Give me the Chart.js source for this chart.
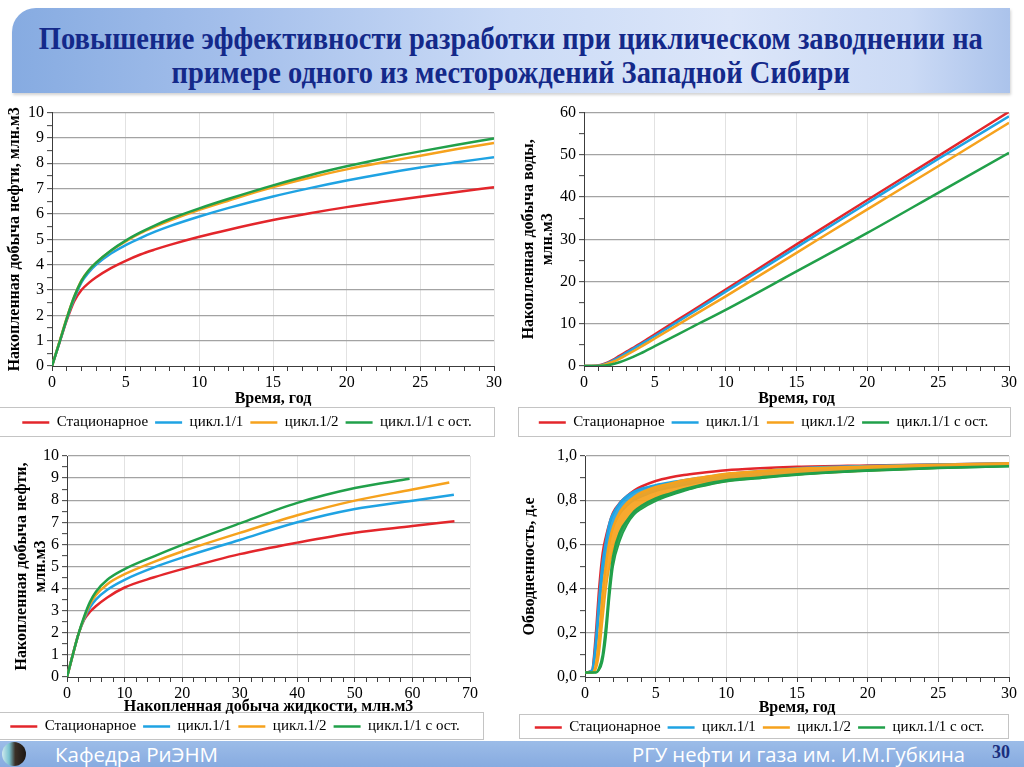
<!DOCTYPE html>
<html lang="ru">
<head>
<meta charset="utf-8">
<script src="https://cdn.jsdelivr.net/npm/chart.js@4.4.1/dist/chart.umd.min.js"></script>
<style>
html,body{margin:0;padding:0;background:#fff;}
body{width:1024px;height:767px;position:relative;overflow:hidden;font-family:"Liberation Serif",serif;}
#title{position:absolute;left:12px;top:8px;width:998px;height:85px;border-top-left-radius:24px;overflow:hidden;
  background:linear-gradient(90deg,#86abe1 0%,#a4bfeb 22%,#cbdbf6 50%,#dce6f9 72%,#cbdaf5 90%,#abc3eb 100%);
  box-shadow:1px 2px 3px rgba(0,0,0,0.18);}
.tl{position:absolute;left:-300px;width:1598px;text-align:center;white-space:nowrap;font:bold 32px "Liberation Serif",serif;color:#14298a;line-height:34px;height:34px;}
.tl span{display:inline-block;transform-origin:50% 50%;}
.lg{position:absolute;border:1px solid #c4c4c4;box-sizing:border-box;background:#fff;}
canvas{position:absolute;}
#footer{position:absolute;left:0;top:741px;width:1024px;height:26px;background:linear-gradient(180deg,#9cbce8,#87abe0);}
#logo{position:absolute;left:2px;top:1px;width:24px;height:24px;border-radius:50%;
  background:linear-gradient(90deg,#cfe9ee 0%,#79c2cf 30%,#3b3026 55%,#1c1714 100%);}
.ft{position:absolute;top:0;height:26px;line-height:26px;white-space:nowrap;font:20px "Open Sans","Noto Sans",sans-serif;color:#fff;}
.ft span{display:inline-block;transform-origin:0 50%;}
#pg{position:absolute;left:992px;top:1px;height:26px;line-height:26px;font:bold 18px "Liberation Serif",serif;color:#1b2f7e;}
</style>
</head>
<body>
<div id="title">
  <div class="tl" style="top:13px"><span id="t1">Повышение эффективности разработки при циклическом заводнении на</span></div>
  <div class="tl" style="top:47px"><span id="t2">примере одного из месторождений Западной Сибири</span></div>
</div>

<div class="lg" style="left:-1px;top:407px;width:496px;height:30px"></div>
<div class="lg" style="left:518px;top:407px;width:493px;height:30px"></div>
<div class="lg" style="left:-1px;top:712px;width:485px;height:28px"></div>
<div class="lg" style="left:519px;top:714px;width:490px;height:25px"></div>

<canvas id="c1" width="510" height="340" style="left:0;top:100px"></canvas>
<canvas id="c2" width="514" height="340" style="left:510px;top:100px"></canvas>
<canvas id="c3" width="510" height="304" style="left:0;top:440px"></canvas>
<canvas id="c4" width="514" height="305" style="left:510px;top:440px"></canvas>

<div id="footer">
  <div id="logo"></div>
  <div class="ft" style="left:55px"><span id="f1">Кафедра РиЭНМ</span></div>
  <div class="ft" style="left:632px"><span id="f2">РГУ нефти и газа им. И.М.Губкина</span></div>
  <div id="pg">30</div>
</div>

<script>
// ---------------- DATA ----------------
const seriesNames = ['Стационарное', 'цикл.1/1', 'цикл.1/2', 'цикл.1/1 с ост.'];

// Chart 1: cumulative oil vs time (years, mln m3)
const oilTime   = [0, 0.5, 1, 1.5, 2, 2.5, 3, 4, 5, 6, 7, 8, 10, 12, 15, 17.5, 20, 22.5, 25, 27.5, 30];
const oilRed    = [0, 0.9, 1.8, 2.55, 3.0, 3.28, 3.5, 3.86, 4.15, 4.4, 4.6, 4.78, 5.1, 5.38, 5.76, 6.03, 6.27, 6.48, 6.68, 6.87, 7.05];
const oilBlue   = [0, 0.92, 1.85, 2.65, 3.3, 3.7, 4.0, 4.44, 4.77, 5.05, 5.3, 5.52, 5.9, 6.24, 6.69, 7.02, 7.32, 7.59, 7.83, 8.04, 8.24];
const oilOrange = [0, 0.95, 1.9, 2.72, 3.38, 3.78, 4.08, 4.55, 4.92, 5.24, 5.5, 5.74, 6.16, 6.53, 7.06, 7.43, 7.76, 8.04, 8.3, 8.56, 8.8];
const oilGreen  = [0, 0.92, 1.87, 2.72, 3.36, 3.78, 4.08, 4.56, 4.95, 5.27, 5.55, 5.8, 6.22, 6.6, 7.13, 7.53, 7.88, 8.19, 8.47, 8.73, 8.98];

// Chart 2: cumulative water vs time
const watTime   = [0, 0.5, 1, 1.5, 2, 2.5, 3, 4, 5, 7.5, 10, 15, 20, 25, 30];
const watRed    = [0, 0, 0.1, 0.6, 1.4, 2.4, 3.4, 5.4, 7.5, 12.8, 18.1, 28.8, 39.3, 49.7, 60.2];
const watBlue   = [0, 0, 0.05, 0.5, 1.2, 2.1, 3.1, 5.1, 7.1, 12.3, 17.6, 28.1, 38.6, 49.0, 59.1];
const watOrange = [0, 0, 0.03, 0.35, 0.95, 1.7, 2.6, 4.5, 6.5, 11.5, 16.5, 26.8, 37.1, 47.3, 57.6];
const watGreen  = [0, 0, 0, 0.1, 0.4, 0.9, 1.5, 3.0, 4.7, 9.0, 13.3, 22.4, 31.5, 41.0, 50.5];

// Chart 3: cumulative oil vs cumulative liquid
const liqRed       = [0, 1, 2, 3, 4, 5, 7, 10, 15, 20, 30, 40, 50, 60, 67.3];
const oilLiqRed    = [0, 1.0, 1.95, 2.6, 2.95, 3.2, 3.6, 4.05, 4.5, 4.88, 5.56, 6.08, 6.53, 6.83, 7.05];
const liqBlue      = [0, 1, 2, 3, 4, 5, 7, 10, 15, 20, 30, 40, 50, 60, 67.2];
const oilLiqBlue   = [0, 1.0, 1.95, 2.65, 3.15, 3.5, 3.95, 4.4, 4.95, 5.4, 6.2, 7.0, 7.6, 7.98, 8.25];
const liqOrange    = [0, 1, 2, 3, 4, 5, 7, 10, 15, 20, 30, 40, 50, 60, 66.4];
const oilLiqOrange = [0, 1.0, 1.95, 2.7, 3.3, 3.7, 4.2, 4.65, 5.2, 5.68, 6.52, 7.32, 7.98, 8.48, 8.8];
const liqGreen     = [0, 1, 2, 3, 4, 5, 7, 10, 15, 20, 30, 40, 50, 59.5];
const oilLiqGreen  = [0, 1.0, 1.95, 2.75, 3.4, 3.85, 4.4, 4.88, 5.45, 5.98, 6.95, 7.88, 8.55, 8.97];

// Chart 4: water cut vs time (cyclic regimes oscillate between a low and a high envelope)
const wcTime      = [0, 0.5, 0.75, 1, 1.25, 1.5, 1.75, 2, 2.5, 3, 3.5, 4, 5, 6, 7, 8, 10, 12, 15, 20, 25, 30];
const wcRed       = [0.02, 0.03, 0.18, 0.40, 0.56, 0.64, 0.70, 0.745, 0.79, 0.82, 0.845, 0.862, 0.887, 0.903, 0.914, 0.922, 0.935, 0.943, 0.951, 0.957, 0.962, 0.966];
const wcBlueHigh  = [0.02, 0.03, 0.15, 0.35, 0.52, 0.62, 0.70, 0.74, 0.79, 0.82, 0.84, 0.852, 0.868, 0.88, 0.89, 0.90, 0.918, 0.93, 0.944, 0.955, 0.962, 0.967];
const wcBlueLow   = [0.02, 0.03, 0.10, 0.28, 0.45, 0.55, 0.64, 0.68, 0.74, 0.775, 0.80, 0.815, 0.84, 0.855, 0.868, 0.879, 0.897, 0.908, 0.922, 0.938, 0.948, 0.958];
const wcOrangeHigh= [0.02, 0.02, 0.05, 0.18, 0.38, 0.52, 0.62, 0.68, 0.75, 0.79, 0.815, 0.835, 0.86, 0.875, 0.89, 0.90, 0.92, 0.93, 0.942, 0.952, 0.96, 0.967];
const wcOrangeLow = [0.02, 0.02, 0.03, 0.10, 0.25, 0.40, 0.50, 0.58, 0.66, 0.71, 0.745, 0.77, 0.80, 0.825, 0.845, 0.86, 0.885, 0.898, 0.915, 0.932, 0.945, 0.955];
const wcGreenHigh = [0.02, 0.02, 0.02, 0.04, 0.10, 0.24, 0.42, 0.55, 0.66, 0.71, 0.75, 0.775, 0.808, 0.83, 0.85, 0.866, 0.89, 0.901, 0.917, 0.935, 0.947, 0.954];
const wcGreenLow  = [0.02, 0.02, 0.02, 0.03, 0.07, 0.18, 0.36, 0.50, 0.62, 0.69, 0.735, 0.76, 0.795, 0.82, 0.84, 0.858, 0.884, 0.896, 0.913, 0.931, 0.944, 0.952];

// ---------------- STYLE ----------------
const FONT = '"Liberation Serif","Times New Roman",serif';
const COLORS = ['#e3262b', '#1fa3e3', '#f6a21d', '#21a04a'];
const BAND_FILL = ['rgba(227,38,43,0.9)', 'rgba(31,163,227,0.9)', 'rgba(246,162,29,0.92)', 'rgba(33,160,74,0.92)'];
Chart.defaults.font.family = FONT;
Chart.defaults.color = '#000';

function pts(xs, ys) { return xs.map((x, k) => ({x: x, y: ys[k]})); }

function ds(i, xs, ys) {
  return {
    label: seriesNames[i], data: pts(xs, ys),
    borderColor: COLORS[i], backgroundColor: COLORS[i],
    borderWidth: 2.5, pointRadius: 0, pointHoverRadius: 0, fill: false,
    order: 4 - i, cubicInterpolationMode: 'monotone'
  };
}

// oscillating series: upper envelope line + lower envelope line filled up to it
function band(i, xs, hi, lo) {
  return [
    { label: seriesNames[i], data: pts(xs, hi), borderColor: COLORS[i], backgroundColor: COLORS[i],
      borderWidth: 2.5, pointRadius: 0, pointHoverRadius: 0, fill: false, order: 4 - i,
      cubicInterpolationMode: 'monotone' },
    { label: '', data: pts(xs, lo), borderColor: COLORS[i], backgroundColor: BAND_FILL[i],
      borderWidth: 1.5, pointRadius: 0, pointHoverRadius: 0, fill: '-1', order: 4 - i,
      cubicInterpolationMode: 'monotone' }
  ];
}

function isMult(v, m) { return Math.abs(v / m - Math.round(v / m)) < 1e-6; }

function xAxis(o) {
  return {
    type: 'linear', position: 'bottom', min: o.min, max: o.max,
    afterFit: s => { s.height = o.h; },
    ticks: { stepSize: o.step, autoSkip: false, maxRotation: 0, minRotation: 0, padding: 2,
      font: {size: 16, family: FONT}, color: '#000',
      callback: v => isMult(v, o.major) ? String(Math.round(v)) : '' },
    grid: { color: c => (c.tick && isMult(c.tick.value, o.major)) ? '#e2e2e2' : 'rgba(0,0,0,0)',
      lineWidth: 1, tickColor: '#3c3c3c', tickLength: 5, tickWidth: 1 },
    border: { color: '#3c3c3c', width: 1 },
    title: { display: true, text: o.title, font: {size: 16, weight: 'bold', family: FONT}, color: '#000',
      padding: {top: 0, bottom: o.tpb} }
  };
}

function yAxis(o) {
  return {
    type: 'linear', min: o.min, max: o.max,
    afterFit: s => { s.width = o.w; },
    ticks: { stepSize: o.step, autoSkip: false, padding: 3,
      font: {size: 16, family: FONT}, color: '#000',
      callback: v => isMult(v, o.major) ? o.fmt(v) : '' },
    grid: { color: c => (c.tick && isMult(c.tick.value, o.major) && c.tick.value !== o.min) ? '#a3a3a3' : 'rgba(0,0,0,0)',
      lineWidth: 1.3, tickColor: '#3c3c3c', tickLength: 5, tickWidth: 1 },
    border: { color: '#3c3c3c', width: 1 },
    title: { display: true, text: o.title, font: {size: 16, weight: 'bold', family: FONT}, color: '#000',
      padding: {top: o.tpt, bottom: 0} }
  };
}

function makeChart(id, datasets, padding, xs, ys) {
  return new Chart(document.getElementById(id), {
    type: 'line',
    data: { datasets: datasets },
    options: {
      responsive: false, devicePixelRatio: 1, animation: false,
      layout: { padding: padding },
      plugins: {
        legend: { position: 'bottom',
          labels: { usePointStyle: true, pointStyle: 'line', pointStyleWidth: 27, padding: 7,
            font: {size: 15, family: FONT}, color: '#000',
            filter: item => item.text !== '',
            sort: (a, b) => a.datasetIndex - b.datasetIndex } },
        tooltip: { enabled: false }
      },
      scales: { x: xs, y: ys }
    }
  });
}

const intFmt = v => String(Math.round(v));
const commaFmt = v => v.toFixed(1).replace('.', ',');

makeChart('c1', [
  ds(0, oilTime, oilRed), ds(1, oilTime, oilBlue), ds(2, oilTime, oilOrange), ds(3, oilTime, oilGreen)
], {left: 0, right: 16, top: 11, bottom: 0},
  xAxis({min: 0, max: 30, step: 1, major: 5, h: 42, title: 'Время, год', tpb: 0}),
  yAxis({min: 0, max: 10, step: 0.5, major: 1, w: 52, fmt: intFmt, tpt: 5,
    title: 'Накопленная добыча нефти, млн.м3'}));

makeChart('c2', [
  ds(0, watTime, watRed), ds(1, watTime, watBlue), ds(2, watTime, watOrange), ds(3, watTime, watGreen)
], {left: 8, right: 15, top: 11, bottom: 0},
  xAxis({min: 0, max: 30, step: 1, major: 5, h: 42, title: 'Время, год', tpb: 0}),
  yAxis({min: 0, max: 60, step: 5, major: 10, w: 66, fmt: intFmt, tpt: 1,
    title: ['Накопленная добыча воды,', 'млн.м3']}));

makeChart('c3', [
  ds(0, liqRed, oilLiqRed), ds(1, liqBlue, oilLiqBlue), ds(2, liqOrange, oilLiqOrange), ds(3, liqGreen, oilLiqGreen)
], {left: 0, right: 40, top: 16, bottom: 0},
  xAxis({min: 0, max: 70, step: 2, major: 10, h: 35, title: 'Накопленная добыча жидкости, млн.м3', tpb: -4}),
  yAxis({min: 0, max: 10, step: 0.5, major: 1, w: 67, fmt: intFmt, tpt: 12,
    title: ['Накопленная добыча нефти,', 'млн.м3']}));

makeChart('c4', [
  ds(0, wcTime, wcRed),
  ...band(1, wcTime, wcBlueHigh, wcBlueLow),
  ...band(2, wcTime, wcOrangeHigh, wcOrangeLow),
  ...band(3, wcTime, wcGreenHigh, wcGreenLow)
], {left: 0, right: 15, top: 16, bottom: 0},
  xAxis({min: 0, max: 30, step: 1, major: 5, h: 36, title: 'Время, год', tpb: -4}),
  yAxis({min: 0, max: 1, step: 0.1, major: 0.2, w: 75, fmt: commaFmt, tpt: 10,
    title: 'Обводненность, д.е'}));

// fit header / footer texts to their widths
function fit(id, w) {
  const el = document.getElementById(id);
  const k = w / el.getBoundingClientRect().width;
  el.style.transform = 'scaleX(' + k + ')';
  return k;
}
const k1 = fit('t1', 944);
document.getElementById('t2').style.transform = 'scaleX(' + k1 + ')';
fit('f1', 163);
fit('f2', 333);
</script>
</body>
</html>
